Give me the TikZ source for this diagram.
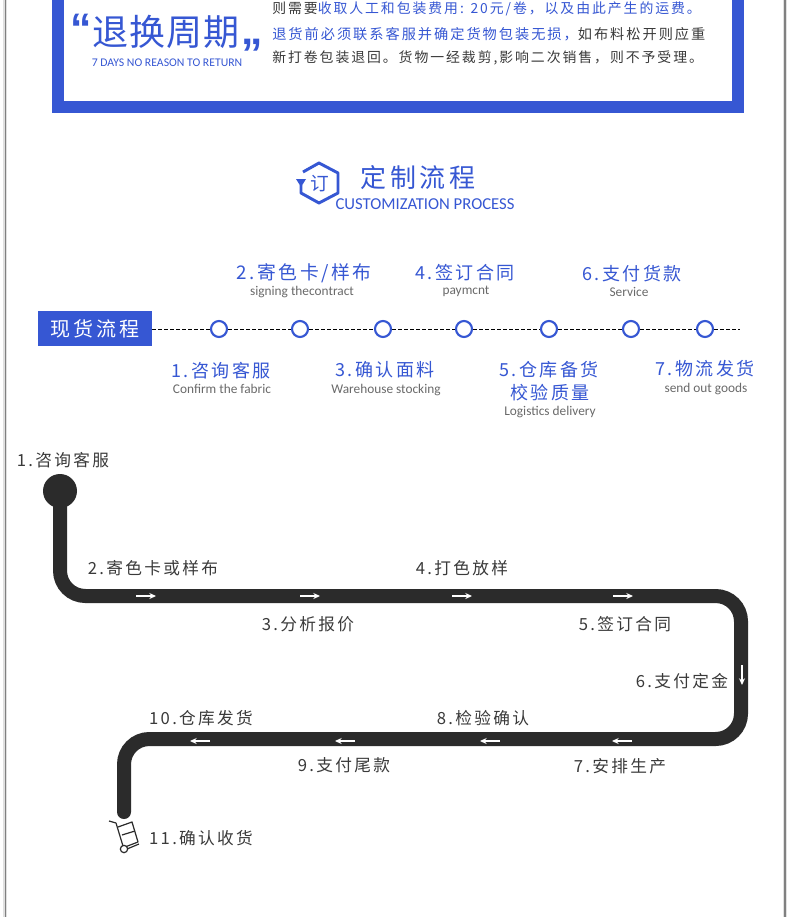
\documentclass[tikz,border=0pt]{standalone}
\usepackage{fontspec}
\usetikzlibrary{arrows.meta}
\setsansfont{Carlito}
\newfontfamily\cjk[LetterSpace=14]{Noto Sans CJK SC}
\newfontfamily\cjktight[LetterSpace=3]{Noto Sans CJK SC}
\newfontfamily\quotefont{Liberation Sans Bold}
\definecolor{frameBlue}{HTML}{3657D3}
\definecolor{routeDark}{HTML}{2B2B2B}
\definecolor{bodyDark}{HTML}{3A3A3A}
\definecolor{enGrey}{HTML}{6A6A6A}

\begin{document}
\begin{tikzpicture}[x=0.75pt, y=-0.75pt, font=\sffamily ,
blueHead/.style={text=frameBlue, inner sep=0pt, yshift=-0.6pt, font=\cjk\fontsize{13.5}{15}\selectfont} ,
enSub/.style={text=enGrey, inner sep=0pt, yshift=-0.6pt, font=\sffamily\fontsize{10}{12}\selectfont} ,
bodyLine/.style={anchor=west, text=bodyDark, inner sep=0pt, font=\cjk\fontsize{10.4}{12}\selectfont} ,
routeLabel/.style={text=bodyDark, inner sep=0pt, font=\cjk\fontsize{12.5}{14}\selectfont} ,
dotStep/.style={circle, draw=frameBlue, line width=1.6pt, fill=white, minimum size=12pt, inner sep=0pt} ,
dashLine/.style={black, line width=0.75pt, dash pattern=on 3pt off 1.5pt} ,
route/.style={routeDark, line width=10.5pt, line cap=round} ,
tipMark/.style={white, line width=0.9pt, -{Stealth[length=5pt, width=4.5pt]}} ,
cartLine/.style={routeDark, line width=0.9pt, line join=round}
]
\useasboundingbox (0,0) rectangle (790,917);
\fill [white] (0,0) rectangle (790,917);

\fill [black!12] (3,0) rectangle (7,917);
\fill [black!12] (783,0) rectangle (787,917);
\fill [black!50] (4.5,0) rectangle (6,917);
\fill [black!50] (784,0) rectangle (785.5,917);

\fill [frameBlue] (52,0) rectangle (744,113);
\fill [white] (64,0) rectangle (732,101);

\node (openQuote) at (81,29) [text=frameBlue, inner sep=0pt, font=\quotefont\fontsize{32}{32}\selectfont] {“};
\node (returnTitle) at (166,32) [text=frameBlue, inner sep=0pt, font=\cjktight\fontsize{27}{29}\selectfont] {退换周期};
\node (closeQuote) at (252,54) [text=frameBlue, inner sep=0pt, font=\quotefont\fontsize{32}{32}\selectfont] {”};
\node (returnSub) at (167,63) [text=frameBlue, inner sep=0pt, font=\sffamily\fontsize{8.8}{10}\selectfont] {7 DAYS NO REASON TO RETURN};

\node (bodyA) at (272,9) [bodyLine] {则需要\textcolor{frameBlue}{收取人工和包装费用: 20元/卷，以及由此产生的运费。}};
\node (bodyB) at (272,34) [bodyLine, font=\cjk\fontsize{10.65}{12}\selectfont] {\textcolor{frameBlue}{退货前必须联系客服并确定货物包装无损，}如布料松开则应重};
\node (bodyC) at (272,58) [bodyLine] {新打卷包装退回。货物一经裁剪,影响二次销售，则不予受理。};

\node (orderGlyph) at (320,184) [text=frameBlue, inner sep=0pt, font=\cjktight\fontsize{14}{16}\selectfont] {订};
\coordinate (hexStart) at (303,172);
\coordinate (hexEnd) at (301,185);
\draw [frameBlue, line width=2.2pt, line join=round] (hexStart) -- (319,163) -- (338,173) -- (338,193) -- (319,203) -- (301,193) -- (hexEnd);
\fill [frameBlue] (296,179) -- (306,179) -- (301,187) -- cycle;

\node (processTitle) at (418,178) [text=frameBlue, inner sep=0pt, font=\cjk\fontsize{19.5}{22}\selectfont] {定制流程};
\node (processSub) at (425,204) [text=frameBlue, inner sep=0pt, font=\sffamily\fontsize{12.5}{14}\selectfont] {CUSTOMIZATION PROCESS};

\node (stockBadge) at (95,328.5) [fill=frameBlue, text=white, minimum width=85.5pt, minimum height=26.3pt, inner sep=0pt, font=\cjk\fontsize{15}{17}\selectfont] {现货流程};

\node (dotA) at (219,329) [dotStep] {};
\node (dotB) at (300,329) [dotStep] {};
\node (dotC) at (383,329) [dotStep] {};
\node (dotD) at (464,329) [dotStep] {};
\node (dotE) at (549,329) [dotStep] {};
\node (dotF) at (631,329) [dotStep] {};
\node (dotG) at (705,329) [dotStep] {};
\coordinate (dashEnd) at (740,329);

\draw [dashLine] (stockBadge.east |- dotA) -- (dotA);
\draw [dashLine] (dotA) -- (dotB);
\draw [dashLine] (dotB) -- (dotC);
\draw [dashLine] (dotC) -- (dotD);
\draw [dashLine] (dotD) -- (dotE);
\draw [dashLine] (dotE) -- (dotF);
\draw [dashLine] (dotF) -- (dotG);
\draw [dashLine] (dotG) -- (dashEnd);

\node (stepB) at (304,272) [blueHead, font=\cjk\fontsize{14.1}{16}\selectfont] {2.寄色卡/样布};
\node (stepBsub) at (302,291) [enSub] {signing thecontract};
\node (stepD) at (465,272) [blueHead] {4.签订合同};
\node (stepDsub) at (466,291) [enSub] {paymcnt};
\node (stepF) at (632,273) [blueHead] {6.支付货款};
\node (stepFsub) at (629,291.5) [enSub] {Service};

\node (stepA) at (221,370) [blueHead] {1.咨询客服};
\node (stepAsub) at (222,388) [enSub] {Confirm the fabric};
\node (stepC) at (385,369) [blueHead] {3.确认面料};
\node (stepCsub) at (386,389) [enSub] {Warehouse stocking};
\node (stepE) at (549,369) [blueHead] {5.仓库备货};
\node (stepEbis) at (550,392) [blueHead] {校验质量};
\node (stepEsub) at (550,411) [enSub] {Logistics delivery};
\node (stepG) at (705,368) [blueHead] {7.物流发货};
\node (stepGsub) at (706,388) [enSub] {send out goods};

\node (routeStart) at (60,491) [circle, fill=routeDark, minimum size=25.5pt, inner sep=0pt] {};
\coordinate (routeEnd) at (124,812);
\draw [route, rounded corners=19pt] (routeStart.center) -- (60,596) -- (741,596) -- (741,739) -- (124,739) -- (routeEnd);

\coordinate (tipA) at (136,596);
\coordinate (tipB) at (300,596);
\coordinate (tipC) at (452,596);
\coordinate (tipD) at (613,596);
\coordinate (tipE) at (742,665);
\coordinate (tipF) at (632,741);
\coordinate (tipG) at (500,741);
\coordinate (tipH) at (355,741);
\coordinate (tipI) at (210,741);
\draw [tipMark] (tipA) -- +(20,0);
\draw [tipMark] (tipB) -- +(20,0);
\draw [tipMark] (tipC) -- +(20,0);
\draw [tipMark] (tipD) -- +(20,0);
\draw [tipMark] (tipE) -- +(0,20);
\draw [tipMark] (tipF) -- +(-20,0);
\draw [tipMark] (tipG) -- +(-20,0);
\draw [tipMark] (tipH) -- +(-20,0);
\draw [tipMark] (tipI) -- +(-20,0);

\node (labelA) at (63,460) [routeLabel] {1.咨询客服};
\node (labelB) at (153,568) [routeLabel] {2.寄色卡或样布};
\node (labelC) at (308,624.5) [routeLabel] {3.分析报价};
\node (labelD) at (462,568) [routeLabel] {4.打色放样};
\node (labelE) at (625,624) [routeLabel] {5.签订合同};
\node (labelF) at (682,681) [routeLabel] {6.支付定金};
\node (labelG) at (620,766) [routeLabel] {7.安排生产};
\node (labelH) at (483,718) [routeLabel] {8.检验确认};
\node (labelI) at (344,765) [routeLabel] {9.支付尾款};
\node (labelJ) at (201,718) [routeLabel] {10.仓库发货};
\node (labelK) at (201,838) [routeLabel] {11.确认收货};

\draw [cartLine] (109,821) -- (116,823) -- (123,846);
\draw [cartLine] (118,827) -- (132,822) -- (138,842) -- (125,847);
\draw [cartLine] (122,835) -- (135,831);
\draw [cartLine] (127,849) -- (139,844);
\node (cartWheel) at (124,849) [circle, draw=routeDark, line width=0.9pt, fill=white, minimum size=5.5pt, inner sep=0pt] {};
\end{tikzpicture}
\end{document}
